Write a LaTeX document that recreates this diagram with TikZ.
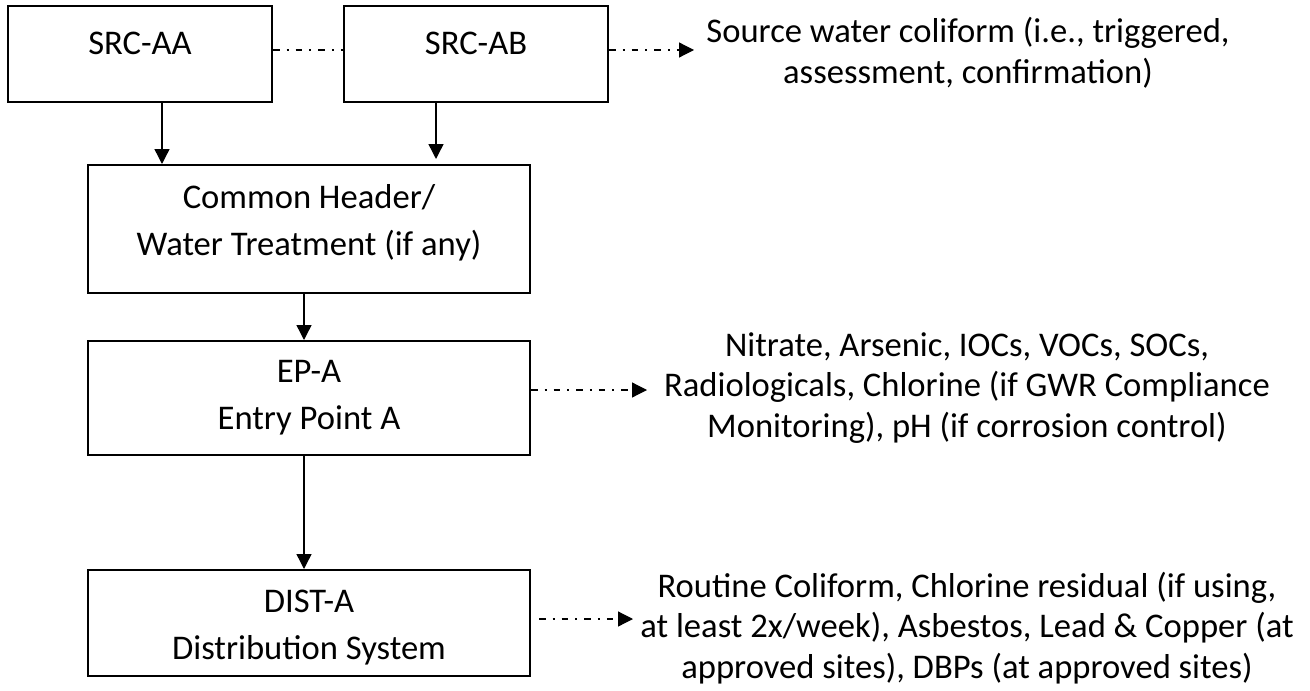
\documentclass[tikz,border=0pt]{standalone}
\usepackage{fontspec}
\setmainfont{Carlito}
\usetikzlibrary{arrows.meta,calc}
\tikzset{
  box/.style={draw, line width=1pt, rectangle, inner sep=0pt},
  boxtext/.style={align=center, inner sep=0pt, font=\fontsize{17.3}{23.5}\selectfont},
  sidetext/.style={align=center, inner sep=0pt, font=\fontsize{17.3}{20.3}\selectfont},
  solidarrow/.style={line width=0.7pt, -{Triangle[length=7.5pt,width=7.5pt]}},
  dashdot/.style={line width=0.6pt, dash pattern=on 3.3pt off 3.5pt on 1pt off 3.5pt},
  dasharrow/.style={dashdot, -{Triangle[length=7.5pt,width=7.5pt]}}
}
\begin{document}
\begin{tikzpicture}[x=0.5pt,y=-0.5pt]
\useasboundingbox (0,0) rectangle (1310,690);
% boxes
\node[box, minimum width=132pt, minimum height=48pt] (aa) at (140,54) {};
\node[box, minimum width=132pt, minimum height=48pt] (ab) at (476,54) {};
\node[box, minimum width=221pt, minimum height=64pt] (hdr) at (309,229) {};
\node[box, minimum width=221pt, minimum height=57pt] (ep) at (309,398) {};
\node[box, minimum width=221pt, minimum height=53pt] (dist) at (309,623) {};
% box texts
\node[boxtext] (aat) at (140,43) {SRC-AA};
\node[boxtext] (abt) at (476,43) {SRC-AB};
\node[boxtext] (hdrt) at (309,223) {Common Header/\\Water Treatment (if any)};
\node[boxtext] (ept) at (309,398) {EP-A\\Entry Point A};
\node[boxtext] (distt) at (309,628) {DIST-A\\Distribution System};
% side texts
\node[sidetext] (srctxt) at (968,53) {Source water coliform (i.e., triggered,\\assessment, confirmation)};
\node[sidetext] (eptxt) at (967,388) {Nitrate, Arsenic, IOCs, VOCs, SOCs,\\Radiologicals, Chlorine (if GWR Compliance\\Monitoring), pH (if corrosion control)};
\node[sidetext] (disttxt) at (967,628) {Routine Coliform, Chlorine residual (if using,\\at least 2x/week), Asbestos, Lead \& Copper (at\\approved sites), DBPs (at approved sites)};
% coordinates for connector ends
\coordinate (aa-o) at ($(aa.south)+(22,0)$);
\coordinate (ab-o) at ($(ab.south)+(-40,0)$);
\coordinate (ab-i) at ($(ab-o |- hdr.north)+(0,-5)$);
\coordinate (hdr-o) at ($(hdr.south)+(-5,0)$);
\coordinate (aa-d) at ($(aa.east)+(0,-4)$);
\coordinate (ab-d) at ($(ab.east)+(0,-4)$);
\coordinate (src-tip) at (694,50);
\coordinate (ep-d) at ($(ep.east)+(0,-8)$);
\coordinate (ep-tip) at (647,390);
\coordinate (dist-d) at ($(dist.east)+(8,-4)$);
\coordinate (dist-tip) at (633,619);
% connectors
\draw[solidarrow] (aa-o) -- (aa-o |- hdr.north);
\draw[solidarrow] (ab-o) -- (ab-i);
\draw[solidarrow] (hdr-o) -- (hdr-o |- ep.north);
\draw[solidarrow] (ep.south -| hdr-o) -- (hdr-o |- dist.north);
\draw[dashdot] (aa-d) -- (aa-d -| ab.west);
\draw[dasharrow] (ab-d) -- (src-tip);
\draw[dasharrow] (ep-d) -- (ep-tip);
\draw[dasharrow] (dist-d) -- (dist-tip);
\end{tikzpicture}
\end{document}
